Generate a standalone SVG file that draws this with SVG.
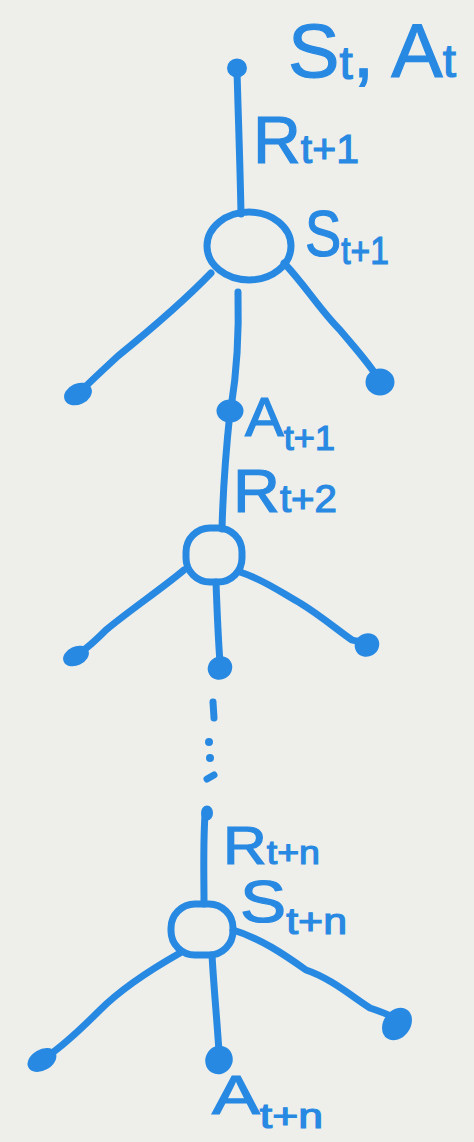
<svg xmlns="http://www.w3.org/2000/svg" width="474" height="1142" viewBox="0 0 474 1142">
  <style>
    .ink { fill: none; stroke: #2889e3; stroke-width: 7; stroke-linecap: round; stroke-linejoin: round; }
    .dot { fill: #2889e3; stroke: #2889e3; stroke-width: 3; }
    .lbl { font-family: "Liberation Sans", "DejaVu Sans", sans-serif; fill: #2889e3; stroke: #2889e3; stroke-width: 1.2; }
    .sub { font-size: 0.62em; }
  </style>
  <rect width="474" height="1142" fill="#eeefea"/>

  <!-- edges of the backup tree -->
  <g id="connectors">
    <path class="ink" d="M237 70 C238 110 240 160 241 214"/>
    <path class="ink" d="M211 273 C185 300 150 330 118 356 C105 368 92 380 82 390"/>
    <path class="ink" d="M238 292 C239 330 238 365 231 408"/>
    <path class="ink" d="M284 263 C305 285 320 310 340 330 C355 348 368 362 378 378"/>
    <path class="ink" d="M230 412 C226 450 223 490 222 529"/>
    <path class="ink" d="M184 570 C160 590 130 610 106 630 C96 640 88 648 78 654"/>
    <path class="ink" d="M216 582 C217 610 218 635 220 663"/>
    <path class="ink" d="M240 572 C265 580 285 595 300 603 C320 615 340 632 352 640 C358 642 364 641 367 640"/>
    <path class="ink" d="M213 702 L214 718" stroke-width="5"/>
    <circle class="dot" cx="209" cy="742" r="2.5"/>
    <circle class="dot" cx="210" cy="758" r="2.5"/>
    <path class="ink" d="M207 779 L214 775" stroke-width="5"/>
    <path class="ink" d="M205 815 C203 845 204 875 204 904"/>
    <path class="ink" d="M180 953 C150 970 120 990 100 1010 C80 1030 60 1048 45 1058"/>
    <path class="ink" d="M212 955 C214 990 217 1020 219 1052"/>
    <path class="ink" d="M233 930 C260 938 285 955 306 970 C330 978 350 995 370 1008 C382 1012 392 1016 398 1020"/>
  </g>

  <!-- root: state-action pair -->
  <g id="root">
    <ellipse class="dot" cx="237" cy="68" rx="8.5" ry="8"/>
    <text class="lbl" x="288" y="77" font-size="76" textLength="168" lengthAdjust="spacingAndGlyphs">S<tspan class="sub" dy="2">t</tspan><tspan dy="-2">, A</tspan><tspan class="sub">t</tspan></text>
    <text class="lbl" x="253" y="163" font-size="66" textLength="106" lengthAdjust="spacingAndGlyphs">R<tspan class="sub">t+1</tspan></text>
  </g>

  <!-- first state node and its actions -->
  <g id="state1">
    <ellipse class="ink" cx="249" cy="246" rx="42" ry="34"/>
    <text class="lbl" x="305" y="256" font-size="64" textLength="84" lengthAdjust="spacingAndGlyphs">S<tspan class="sub" dy="8">t+1</tspan></text>
  </g>
  <g id="leaf1a"><ellipse class="dot" cx="78" cy="394" rx="13" ry="9" transform="rotate(-25 78 394)"/></g>
  <g id="leaf1c"><ellipse class="dot" cx="380" cy="382" rx="13" ry="12"/></g>
  <g id="action1">
    <ellipse class="dot" cx="230" cy="411" rx="12" ry="10"/>
    <text class="lbl" x="245" y="436" font-size="56" textLength="90" lengthAdjust="spacingAndGlyphs">A<tspan class="sub" dy="14">t+1</tspan></text>
    <text class="lbl" x="233" y="512" font-size="62" textLength="104" lengthAdjust="spacingAndGlyphs">R<tspan class="sub">t+2</tspan></text>
  </g>

  <!-- second state node -->
  <g id="state2">
    <rect class="ink" x="186" y="528" width="56" height="54" rx="24" ry="24"/>
  </g>
  <g id="leaf2a"><ellipse class="dot" cx="76" cy="656" rx="12" ry="8" transform="rotate(-25 76 656)"/></g>
  <g id="leaf2b"><ellipse class="dot" cx="220" cy="668" rx="11" ry="10" transform="rotate(-30 220 668)"/></g>
  <g id="leaf2c"><ellipse class="dot" cx="367" cy="645" rx="11" ry="10" transform="rotate(-30 367 645)"/></g>

  <!-- n-th step -->
  <g id="stepN">
    <ellipse class="dot" cx="207" cy="813" rx="4.5" ry="6"/>
    <text class="lbl" x="223" y="864" font-size="54" textLength="97" lengthAdjust="spacingAndGlyphs">R<tspan class="sub">t+n</tspan></text>
  </g>
  <g id="stateN">
    <rect class="ink" x="171" y="904" width="62" height="51" rx="24" ry="24"/>
    <text class="lbl" x="240" y="922" font-size="60" textLength="107" lengthAdjust="spacingAndGlyphs">S<tspan class="sub" dy="12">t+n</tspan></text>
  </g>
  <g id="leafNa"><ellipse class="dot" cx="42" cy="1060" rx="14" ry="9" transform="rotate(-30 42 1060)"/></g>
  <g id="leafNc"><ellipse class="dot" cx="397" cy="1024" rx="12" ry="16" transform="rotate(35 397 1024)"/></g>
  <g id="actionN">
    <ellipse class="dot" cx="219" cy="1060" rx="12" ry="13" transform="rotate(30 219 1060)"/>
    <text class="lbl" x="212" y="1114" font-size="56" textLength="111" lengthAdjust="spacingAndGlyphs">A<tspan class="sub" dy="14">t+n</tspan></text>
  </g>
</svg>
